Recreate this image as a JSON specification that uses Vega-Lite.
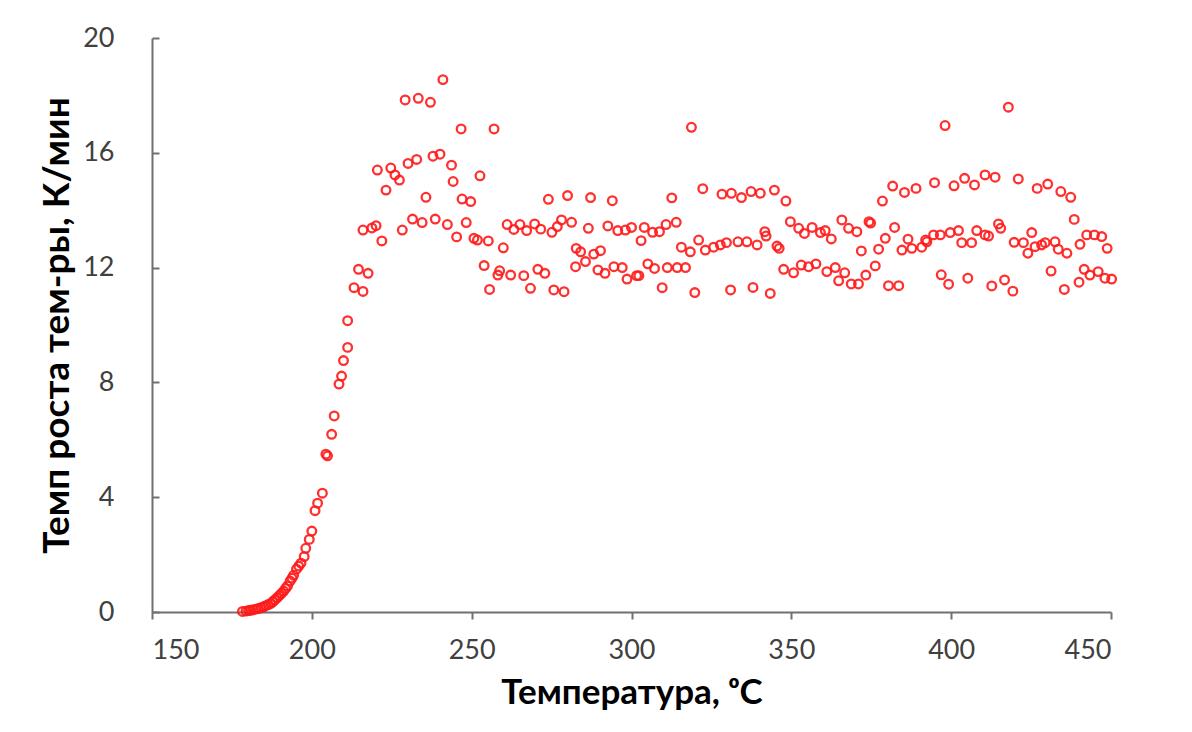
{
  "$schema": "https://vega.github.io/schema/vega-lite/v6.json",
  "autosize": "none",
  "width": 959,
  "height": 574,
  "padding": {"left": 152, "top": 38, "right": 81, "bottom": 120},
  "background": "white",
  "config": {
    "view": {"stroke": null},
    "font": "Lato",
    "axis": {
      "grid": false,
      "domainColor": "#707070",
      "domainWidth": 2,
      "tickColor": "#707070",
      "tickWidth": 2,
      "labelFont": "Lato",
      "labelFontSize": 27,
      "labelColor": "#404040",
      "titleFont": "Lato",
      "titleFontWeight": "bold",
      "titleColor": "#000000"
    }
  },
  "data": {
    "values": [
      {"temp": 178.3, "rate": 0.02}, {"temp": 179.4, "rate": 0.03}, {"temp": 180.2, "rate": 0.05},
      {"temp": 180.9, "rate": 0.06}, {"temp": 181.7, "rate": 0.08}, {"temp": 182.5, "rate": 0.1},
      {"temp": 183.3, "rate": 0.12}, {"temp": 184.1, "rate": 0.15}, {"temp": 184.9, "rate": 0.18},
      {"temp": 185.6, "rate": 0.22}, {"temp": 186.4, "rate": 0.26}, {"temp": 187.2, "rate": 0.3},
      {"temp": 187.8, "rate": 0.36}, {"temp": 188.4, "rate": 0.42}, {"temp": 189.1, "rate": 0.49},
      {"temp": 189.8, "rate": 0.57}, {"temp": 190.5, "rate": 0.65}, {"temp": 191.2, "rate": 0.73},
      {"temp": 191.8, "rate": 0.82}, {"temp": 192.4, "rate": 0.91}, {"temp": 193.2, "rate": 1.08},
      {"temp": 193.8, "rate": 1.18}, {"temp": 194.3, "rate": 1.28}, {"temp": 195.2, "rate": 1.49},
      {"temp": 195.9, "rate": 1.6}, {"temp": 196.6, "rate": 1.7}, {"temp": 197.6, "rate": 1.93},
      {"temp": 198.1, "rate": 2.22}, {"temp": 199.2, "rate": 2.53}, {"temp": 200.0, "rate": 2.82},
      {"temp": 201.0, "rate": 3.53}, {"temp": 201.8, "rate": 3.79}, {"temp": 203.3, "rate": 4.14},
      {"temp": 204.4, "rate": 5.5}, {"temp": 204.9, "rate": 5.44}, {"temp": 206.2, "rate": 6.19},
      {"temp": 207.0, "rate": 6.83}, {"temp": 208.5, "rate": 7.94}, {"temp": 209.3, "rate": 8.22},
      {"temp": 209.9, "rate": 8.76}, {"temp": 211.2, "rate": 9.22}, {"temp": 211.2, "rate": 10.15},
      {"temp": 213.2, "rate": 11.3}, {"temp": 214.6, "rate": 11.94}, {"temp": 216.0, "rate": 11.17},
      {"temp": 217.6, "rate": 11.8}, {"temp": 216.0, "rate": 13.31}, {"temp": 218.8, "rate": 13.38},
      {"temp": 220.1, "rate": 13.46}, {"temp": 221.9, "rate": 12.93}, {"temp": 220.5, "rate": 15.4},
      {"temp": 224.7, "rate": 15.47}, {"temp": 226.0, "rate": 15.23}, {"temp": 227.4, "rate": 15.05},
      {"temp": 223.2, "rate": 14.7}, {"temp": 228.3, "rate": 13.31}, {"temp": 229.2, "rate": 17.84},
      {"temp": 233.3, "rate": 17.9}, {"temp": 237.1, "rate": 17.76}, {"temp": 241.0, "rate": 18.55},
      {"temp": 230.1, "rate": 15.63}, {"temp": 232.8, "rate": 15.77}, {"temp": 237.9, "rate": 15.88},
      {"temp": 240.1, "rate": 15.95}, {"temp": 243.7, "rate": 15.57}, {"temp": 244.2, "rate": 15.0},
      {"temp": 235.7, "rate": 14.45}, {"temp": 231.5, "rate": 13.69}, {"temp": 234.5, "rate": 13.57},
      {"temp": 238.6, "rate": 13.69}, {"temp": 242.4, "rate": 13.5}, {"temp": 246.7, "rate": 16.83},
      {"temp": 247.0, "rate": 14.39}, {"temp": 249.7, "rate": 14.3}, {"temp": 248.3, "rate": 13.57},
      {"temp": 245.3, "rate": 13.07}, {"temp": 250.7, "rate": 13.02}, {"temp": 251.8, "rate": 12.96},
      {"temp": 252.6, "rate": 15.2}, {"temp": 253.9, "rate": 12.07}, {"temp": 255.2, "rate": 12.93},
      {"temp": 255.6, "rate": 11.24}, {"temp": 257.0, "rate": 16.83}, {"temp": 258.2, "rate": 11.74},
      {"temp": 258.75, "rate": 11.89}, {"temp": 259.9, "rate": 12.69}, {"temp": 261.1, "rate": 13.5},
      {"temp": 262.2, "rate": 11.74}, {"temp": 263.2, "rate": 13.33}, {"temp": 265.1, "rate": 13.5},
      {"temp": 266.3, "rate": 11.72}, {"temp": 267.2, "rate": 13.29}, {"temp": 268.4, "rate": 11.28},
      {"temp": 269.7, "rate": 13.52}, {"temp": 270.7, "rate": 11.94}, {"temp": 271.6, "rate": 13.34},
      {"temp": 272.9, "rate": 11.8}, {"temp": 274.0, "rate": 14.38}, {"temp": 275.1, "rate": 13.23},
      {"temp": 275.7, "rate": 11.22}, {"temp": 276.8, "rate": 13.43}, {"temp": 278.1, "rate": 13.66},
      {"temp": 278.9, "rate": 11.16}, {"temp": 280.0, "rate": 14.51}, {"temp": 281.25, "rate": 13.58},
      {"temp": 282.5, "rate": 12.03}, {"temp": 282.7, "rate": 12.67}, {"temp": 284.1, "rate": 12.55},
      {"temp": 285.6, "rate": 12.21}, {"temp": 286.5, "rate": 13.37}, {"temp": 287.2, "rate": 14.44},
      {"temp": 288.2, "rate": 12.47}, {"temp": 289.5, "rate": 11.92}, {"temp": 290.3, "rate": 12.59},
      {"temp": 291.7, "rate": 11.8}, {"temp": 292.6, "rate": 13.45}, {"temp": 294.0, "rate": 14.33},
      {"temp": 294.5, "rate": 12.03}, {"temp": 295.7, "rate": 13.29}, {"temp": 297.1, "rate": 12.0},
      {"temp": 298.1, "rate": 13.31}, {"temp": 298.6, "rate": 11.6}, {"temp": 300.0, "rate": 13.4},
      {"temp": 301.6, "rate": 11.72}, {"temp": 302.3, "rate": 11.72}, {"temp": 303.0, "rate": 12.94},
      {"temp": 304.0, "rate": 13.4}, {"temp": 305.1, "rate": 12.13}, {"temp": 306.6, "rate": 13.23},
      {"temp": 307.2, "rate": 11.97}, {"temp": 308.75, "rate": 13.25}, {"temp": 309.6, "rate": 11.3},
      {"temp": 310.8, "rate": 13.5}, {"temp": 311.2, "rate": 12.0}, {"temp": 312.6, "rate": 14.43},
      {"temp": 314.0, "rate": 13.58}, {"temp": 314.3, "rate": 12.0}, {"temp": 315.6, "rate": 12.71},
      {"temp": 316.9, "rate": 12.0}, {"temp": 318.4, "rate": 12.55}, {"temp": 318.75, "rate": 16.89},
      {"temp": 319.8, "rate": 11.13}, {"temp": 321.0, "rate": 12.96}, {"temp": 322.3, "rate": 14.75},
      {"temp": 323.1, "rate": 12.61}, {"temp": 325.7, "rate": 12.71}, {"temp": 327.8, "rate": 12.79},
      {"temp": 328.3, "rate": 14.56}, {"temp": 329.7, "rate": 12.87}, {"temp": 331.0, "rate": 11.22},
      {"temp": 331.25, "rate": 14.59}, {"temp": 333.3, "rate": 12.9}, {"temp": 334.4, "rate": 14.44},
      {"temp": 336.1, "rate": 12.9}, {"temp": 337.4, "rate": 14.65}, {"temp": 338.0, "rate": 11.31},
      {"temp": 339.3, "rate": 12.79}, {"temp": 340.3, "rate": 14.59}, {"temp": 341.7, "rate": 13.25},
      {"temp": 342.1, "rate": 13.1}, {"temp": 343.4, "rate": 11.1}, {"temp": 344.7, "rate": 14.7},
      {"temp": 345.5, "rate": 12.75}, {"temp": 346.2, "rate": 12.67}, {"temp": 347.6, "rate": 11.94},
      {"temp": 348.3, "rate": 14.32}, {"temp": 349.7, "rate": 13.6}, {"temp": 350.7, "rate": 11.82},
      {"temp": 352.3, "rate": 13.37}, {"temp": 353.1, "rate": 12.09}, {"temp": 354.1, "rate": 13.19},
      {"temp": 355.4, "rate": 12.03}, {"temp": 356.5, "rate": 13.4}, {"temp": 357.7, "rate": 12.13},
      {"temp": 359.1, "rate": 13.22}, {"temp": 360.6, "rate": 13.29}, {"temp": 361.1, "rate": 11.86},
      {"temp": 362.5, "rate": 13.0}, {"temp": 363.75, "rate": 12.0}, {"temp": 364.8, "rate": 11.54},
      {"temp": 365.8, "rate": 13.66}, {"temp": 366.7, "rate": 11.82}, {"temp": 367.9, "rate": 13.37},
      {"temp": 368.75, "rate": 11.43}, {"temp": 370.5, "rate": 13.25}, {"temp": 371.0, "rate": 11.43},
      {"temp": 371.9, "rate": 12.58}, {"temp": 373.3, "rate": 11.74}, {"temp": 374.3, "rate": 13.6},
      {"temp": 374.8, "rate": 13.55}, {"temp": 376.25, "rate": 12.06}, {"temp": 377.3, "rate": 12.64},
      {"temp": 378.5, "rate": 14.32}, {"temp": 379.4, "rate": 13.02}, {"temp": 380.4, "rate": 11.37},
      {"temp": 381.7, "rate": 14.84}, {"temp": 382.3, "rate": 13.4}, {"temp": 383.6, "rate": 11.37},
      {"temp": 384.6, "rate": 12.61}, {"temp": 385.4, "rate": 14.62}, {"temp": 386.5, "rate": 12.99},
      {"temp": 387.7, "rate": 12.67}, {"temp": 389.0, "rate": 14.76}, {"temp": 390.8, "rate": 12.71},
      {"temp": 392.0, "rate": 12.96}, {"temp": 392.4, "rate": 12.9}, {"temp": 394.5, "rate": 13.14},
      {"temp": 394.8, "rate": 14.96}, {"temp": 396.6, "rate": 13.14}, {"temp": 396.9, "rate": 11.75},
      {"temp": 398.1, "rate": 16.95}, {"temp": 399.2, "rate": 11.42}, {"temp": 399.7, "rate": 13.22},
      {"temp": 400.9, "rate": 14.85}, {"temp": 402.3, "rate": 13.29}, {"temp": 403.3, "rate": 12.87},
      {"temp": 404.2, "rate": 15.11}, {"temp": 405.2, "rate": 11.63}, {"temp": 406.4, "rate": 12.87},
      {"temp": 407.3, "rate": 14.88}, {"temp": 408.0, "rate": 13.29}, {"temp": 410.6, "rate": 15.23},
      {"temp": 410.6, "rate": 13.14}, {"temp": 411.7, "rate": 13.1}, {"temp": 412.7, "rate": 11.36},
      {"temp": 413.75, "rate": 15.15}, {"temp": 414.8, "rate": 13.52}, {"temp": 415.5, "rate": 13.37},
      {"temp": 416.7, "rate": 11.57}, {"temp": 417.9, "rate": 17.59}, {"temp": 419.3, "rate": 11.18},
      {"temp": 419.7, "rate": 12.88}, {"temp": 421.0, "rate": 15.09}, {"temp": 422.6, "rate": 12.87},
      {"temp": 424.0, "rate": 12.5}, {"temp": 425.2, "rate": 13.22}, {"temp": 426.25, "rate": 12.73},
      {"temp": 426.9, "rate": 14.76}, {"temp": 428.3, "rate": 12.79}, {"temp": 429.4, "rate": 12.87},
      {"temp": 430.2, "rate": 14.91}, {"temp": 431.25, "rate": 11.88}, {"temp": 432.5, "rate": 12.9},
      {"temp": 433.5, "rate": 12.64}, {"temp": 434.3, "rate": 14.65}, {"temp": 435.4, "rate": 11.24},
      {"temp": 436.2, "rate": 12.5}, {"temp": 437.4, "rate": 14.45}, {"temp": 438.5, "rate": 13.68},
      {"temp": 440.0, "rate": 11.49}, {"temp": 440.3, "rate": 12.81}, {"temp": 441.6, "rate": 11.94},
      {"temp": 442.4, "rate": 13.14}, {"temp": 443.4, "rate": 11.74}, {"temp": 444.8, "rate": 13.14},
      {"temp": 446.0, "rate": 11.86}, {"temp": 447.1, "rate": 13.08}, {"temp": 448.1, "rate": 11.63},
      {"temp": 448.8, "rate": 12.67}, {"temp": 450.2, "rate": 11.6}
    ]
  },
  "mark": {
    "type": "point",
    "shape": "circle",
    "filled": false,
    "color": "#ff1a1a",
    "strokeWidth": 2.3,
    "size": 75,
    "opacity": 0.9,
    "clip": false
  },
  "encoding": {
    "x": {
      "field": "temp",
      "type": "quantitative",
      "scale": {"domain": [150, 450], "nice": false, "zero": false},
      "axis": {
        "title": "Температура, ᵒC",
        "values": [150, 200, 250, 300, 350, 400, 450],
        "tickSize": 7,
        "labelPadding": 18,
        "titleFontSize": 35,
        "titlePadding": 12
      }
    },
    "y": {
      "field": "rate",
      "type": "quantitative",
      "scale": {"domain": [0, 20], "nice": false},
      "axis": {
        "title": "Темп роста тем-ры, К/мин",
        "values": [0, 4, 8, 12, 16, 20],
        "tickSize": -7,
        "labelPadding": 45,
        "titleFontSize": 37,
        "titlePadding": 6
      }
    }
  }
}
